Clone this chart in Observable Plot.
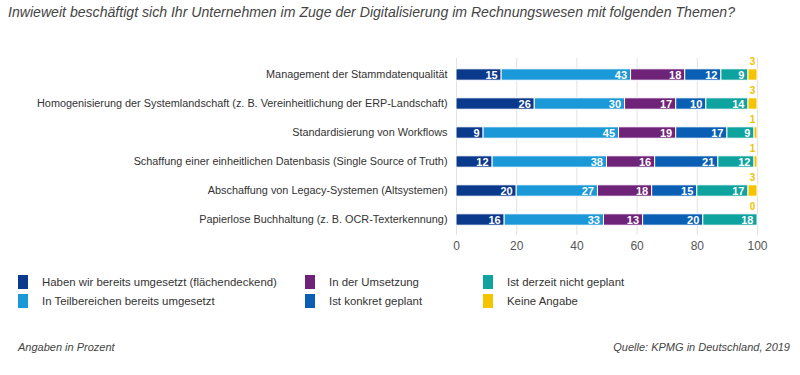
<!DOCTYPE html>
<html>
<head>
<meta charset="utf-8">
<script src="https://cdn.jsdelivr.net/npm/d3@7"></script>
<script src="https://cdn.jsdelivr.net/npm/@observablehq/plot@0.6"></script>
<style>
  html, body { margin: 0; padding: 0; background: #fff; }
  #wrap { position: relative; width: 800px; height: 375px; font-family: "Liberation Sans", Arial, sans-serif; color: #333; overflow: hidden; }
  .abs { position: absolute; white-space: nowrap; }
  #title { left: 8px; top: 4px; font-size: 14.1px; font-style: italic; color: #444; }
  #chart { left: 0; top: 40px; }
  .sw { position: absolute; width: 10px; height: 14px; }
  .lt { position: absolute; font-size: 11.4px; line-height: 14px; color: #333; white-space: nowrap; }
  .foot { font-size: 11px; font-style: italic; color: #444; top: 341px; }
</style>
</head>
<body>
<div id="wrap">
  <div id="title" class="abs">Inwieweit beschäftigt sich Ihr Unternehmen im Zuge der Digitalisierung im Rechnungswesen mit folgenden Themen?</div>
  <div id="chart" class="abs"></div>
  <div id="legend"></div>
  <div class="abs foot" style="left:18px">Angaben in Prozent</div>
  <div class="abs foot" style="right:10px">Quelle: KPMG in Deutschland, 2019</div>
</div>
<script>
const topics = [
  "Management der Stammdatenqualität",
  "Homogenisierung der Systemlandschaft (z. B. Vereinheitlichung der ERP-Landschaft)",
  "Standardisierung von Workflows",
  "Schaffung einer einheitlichen Datenbasis (Single Source of Truth)",
  "Abschaffung von Legacy-Systemen (Altsystemen)",
  "Papierlose Buchhaltung (z. B. OCR-Texterkennung)"
];
const categories = [
  "Haben wir bereits umgesetzt (flächendeckend)",
  "In Teilbereichen bereits umgesetzt",
  "In der Umsetzung",
  "Ist konkret geplant",
  "Ist derzeit nicht geplant",
  "Keine Angabe"
];
const colors = ["#0b3a8c", "#1a98d8", "#6e2379", "#0a5fb4", "#0ea39f", "#f5c400"];

const umgesetzt      = [15, 26, 9, 12, 20, 16];
const teilbereiche   = [43, 30, 45, 38, 27, 33];
const inUmsetzung    = [18, 17, 19, 16, 18, 13];
const geplant        = [12, 10, 17, 21, 15, 20];
const nichtGeplant   = [9, 14, 9, 12, 17, 18];
const keineAngabe    = [3, 3, 1, 1, 3, 0];

const xTicks = [0, 20, 40, 60, 80, 100];

const series = [umgesetzt, teilbereiche, inUmsetzung, geplant, nichtGeplant, keineAngabe];
const data = [];
topics.forEach((t, i) => {
  categories.forEach((c, j) => data.push({topic: t, category: c, value: series[j][i]}));
});
const inner = data.filter(d => d.category !== "Keine Angabe");
const yellow = data.filter(d => d.category === "Keine Angabe");

const chart = Plot.plot({
  width: 800,
  height: 225,
  marginLeft: 456,
  marginRight: 43,
  marginTop: 18,
  marginBottom: 30,
  style: {fontFamily: "'Liberation Sans', Arial, sans-serif", fontSize: "11px", color: "#333", background: "transparent"},
  x: {domain: [0, 100], axis: null},
  y: {domain: topics, padding: 0, axis: null},
  color: {domain: categories, range: colors},
  marks: [
    Plot.ruleX(xTicks, {stroke: "#e2e2e2", strokeWidth: 1}),
    Plot.barX(data, {x: "value", y: "topic", fill: "category", order: categories, stroke: "white", strokeWidth: 1, insetTop: 8.8, insetBottom: 8.8}),
    Plot.text(inner, Plot.stackX2({x: "value", y: "topic", z: "category", order: categories, text: "value", fill: "white", fontWeight: "bold", fontSize: 11, textAnchor: "end", dx: -4})),
    Plot.text(yellow, {x: () => 100, y: "topic", text: "value", fill: "#f2c200", fontSize: 10, fontWeight: "bold", dx: -5, dy: -13}),
    Plot.axisY({tickSize: 0, tickPadding: 9, fontSize: 10.85, fill: "#333", label: null}),
    Plot.axisX({ticks: xTicks, tickSize: 0, tickPadding: 6, fontSize: 12, fill: "#555", label: null})
  ]
});
document.getElementById("chart").appendChild(chart);

// legend
const legendPos = [
  {x: 18, y: 275}, {x: 18, y: 294},
  {x: 305, y: 275}, {x: 305, y: 294},
  {x: 483, y: 275}, {x: 483, y: 294}
];
const wrap = document.getElementById("wrap");
categories.forEach((c, k) => {
  const p = legendPos[k];
  const sw = document.createElement("div");
  sw.className = "sw";
  sw.style.left = p.x + "px";
  sw.style.top = p.y + "px";
  sw.style.background = colors[k];
  wrap.appendChild(sw);
  const t = document.createElement("div");
  t.className = "lt";
  t.style.left = (p.x + 24) + "px";
  t.style.top = p.y + "px";
  t.textContent = c;
  wrap.appendChild(t);
});
</script>
</body>
</html>
